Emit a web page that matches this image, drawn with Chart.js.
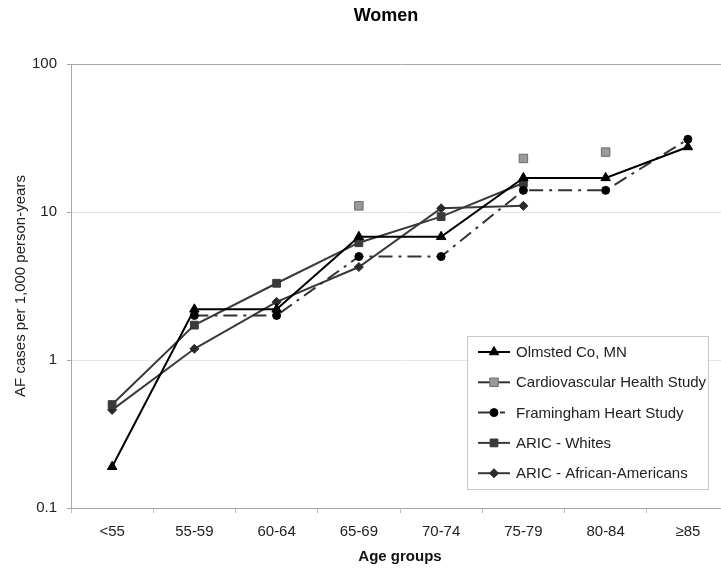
<!DOCTYPE html>
<html>
<head>
<meta charset="utf-8">
<title>Women - AF incidence by age group</title>
<script src="https://cdn.jsdelivr.net/npm/chart.js@4.4.0/dist/chart.umd.min.js"></script>
<style>
    html, body { margin: 0; padding: 0; background: #fff; overflow: hidden; }
    #wrap { width: 721px; height: 569px; overflow: hidden; }
    canvas { display: block; }
</style>
</head>
<body>
<div id="wrap"><canvas id="afChart" width="740" height="569"></canvas></div>
<script>
// data (cases per 1,000 person-years)
const ageGroups = ['<55', '55-59', '60-64', '65-69', '70-74', '75-79', '80-84', '≥85'];
const olmsted = [0.19, 2.2, 2.2, 6.8, 6.8, 17, 17, 27.5];
const cardiovascular = [null, null, null, 11, null, 23, 25.4, null];
const framingham = [null, 2.0, 2.0, 5.0, 5.0, 14, 14, 31];
const aricWhites = [0.5, 1.72, 3.3, 6.2, 9.3, 15.7, null, null];
const aricAfrican = [0.46, 1.19, 2.47, 4.25, 10.6, 11.0, null, null];
const yTicks = [0.1, 1, 10, 100];

const FONT = '"Liberation Sans", Arial, Helvetica, sans-serif';
Chart.defaults.font.family = FONT;
Chart.defaults.font.size = 15;
Chart.defaults.color = '#222';

// title drawn by hand so it can sit where the original has it
const chartTitle = {
    id: 'chartTitle',
    afterDraw(chart) {
        const ctx = chart.ctx;
        ctx.save();
        ctx.font = 'bold 18px ' + FONT;
        ctx.fillStyle = '#000';
        ctx.textAlign = 'center';
        ctx.textBaseline = 'middle';
        ctx.fillText('Women', 386, 16);
        ctx.restore();
    }
};

// boxed legend inside the plot area
const boxLegend = {
    id: 'boxLegend',
    afterDraw(chart) {
        const ctx = chart.ctx;
        const area = chart.chartArea;
        const x0 = area.left + 396, y0 = area.top + 272;
        const w = 241, h = 153;
        ctx.save();
        ctx.fillStyle = '#fff';
        ctx.fillRect(x0, y0, w, h);
        ctx.strokeStyle = '#c8c8c8';
        ctx.lineWidth = 1;
        ctx.strokeRect(x0 + 0.5, y0 + 0.5, w, h);

        chart.data.datasets.forEach((ds, i) => {
            const y = y0 + 16 + i * 30.3;
            const mx = x0 + 27;
            ctx.setLineDash([]);
            ctx.strokeStyle = ds.legendLine || ds.borderColor;
            ctx.lineWidth = 2;
            ctx.beginPath();
            if (ds.label === 'Framingham Heart Study') {
                ctx.moveTo(x0 + 11, y); ctx.lineTo(x0 + 24, y);
                ctx.moveTo(x0 + 33, y); ctx.lineTo(x0 + 38, y);
            } else {
                ctx.moveTo(x0 + 11, y); ctx.lineTo(x0 + 43, y);
            }
            ctx.stroke();

            ctx.fillStyle = ds.pointBackgroundColor;
            ctx.strokeStyle = ds.pointBorderColor;
            ctx.lineWidth = ds.pointBorderWidth;
            Chart.helpers.drawPoint(ctx, {
                pointStyle: ds.pointStyle,
                radius: ds.pointRadius,
                rotation: 0,
                borderWidth: ds.pointBorderWidth
            }, mx, y);

            ctx.fillStyle = '#222';
            ctx.font = '15px ' + FONT;
            ctx.textAlign = 'left';
            ctx.textBaseline = 'middle';
            ctx.fillText(ds.label, x0 + 49, y + 1);
        });
        ctx.restore();
    }
};

const ctx = document.getElementById('afChart').getContext('2d');
new Chart(ctx, {
    type: 'line',
    data: {
        labels: ageGroups,
        datasets: [
            {
                label: 'Olmsted Co, MN',
                data: olmsted,
                borderColor: '#000',
                borderWidth: 2,
                pointStyle: 'triangle',
                pointRadius: 5.5,
                pointBackgroundColor: '#000',
                pointBorderColor: '#000',
                pointBorderWidth: 1
            },
            {
                label: 'Cardiovascular Health Study',
                data: cardiovascular,
                showLine: false,
                borderColor: '#333',
                legendLine: '#333',
                pointStyle: 'rect',
                pointRadius: 6,
                pointBackgroundColor: '#9a9a9a',
                pointBorderColor: '#6a6a6a',
                pointBorderWidth: 1
            },
            {
                label: 'Framingham Heart Study',
                data: framingham,
                borderColor: '#333',
                borderWidth: 2,
                borderDash: [14, 6, 3, 6],
                legendLine: '#333',
                pointStyle: 'circle',
                pointRadius: 4,
                pointBackgroundColor: '#000',
                pointBorderColor: '#000',
                pointBorderWidth: 1
            },
            {
                label: 'ARIC - Whites',
                data: aricWhites,
                borderColor: '#3a3a3a',
                borderWidth: 2,
                pointStyle: 'rect',
                pointRadius: 5.5,
                pointBackgroundColor: '#3a3a3a',
                pointBorderColor: '#3a3a3a',
                pointBorderWidth: 1
            },
            {
                label: 'ARIC - African-Americans',
                data: aricAfrican,
                borderColor: '#3a3a3a',
                borderWidth: 2,
                pointStyle: 'rectRot',
                pointRadius: 4.5,
                pointBackgroundColor: '#2a2a2a',
                pointBorderColor: '#2a2a2a',
                pointBorderWidth: 1
            }
        ]
    },
    options: {
        responsive: false,
        animation: false,
        devicePixelRatio: 1,
        layout: {
            padding: { top: 64, right: 11, bottom: 0, left: 0 }
        },
        plugins: {
            legend: { display: false },
            title: { display: false },
            tooltip: { enabled: false }
        },
        scales: {
            x: {
                offset: true,
                grid: {
                    drawOnChartArea: false,
                    offset: true,
                    tickLength: 5,
                    tickColor: '#bdbdbd'
                },
                border: { color: '#a8a8a8' },
                ticks: {
                    padding: 10,
                    maxRotation: 0,
                    autoSkip: false,
                    color: '#222'
                },
                title: {
                    display: true,
                    text: 'Age groups',
                    color: '#111',
                    font: { size: 15, weight: 'bold' },
                    padding: { top: 0, bottom: 3 }
                },
                afterFit(scale) { scale.height = 61; }
            },
            y: {
                type: 'logarithmic',
                min: 0.1,
                max: 100,
                afterBuildTicks(scale) {
                    scale.ticks = yTicks.map(v => ({ value: v }));
                },
                afterFit(scale) { scale.width = 71; },
                ticks: {
                    padding: 10,
                    color: '#222',
                    callback: value => String(value)
                },
                grid: {
                    color: c => (c.tick && c.tick.value === 100) ? '#a8a8a8' : '#e6e6e6',
                    tickColor: '#a8a8a8',
                    tickLength: 4
                },
                border: { color: '#a8a8a8' },
                title: {
                    display: true,
                    text: 'AF cases per 1,000 person-years',
                    color: '#222',
                    font: { size: 15 },
                    padding: { top: 12, bottom: 0 }
                }
            }
        }
    },
    plugins: [chartTitle, boxLegend]
});
</script>
</body>
</html>
